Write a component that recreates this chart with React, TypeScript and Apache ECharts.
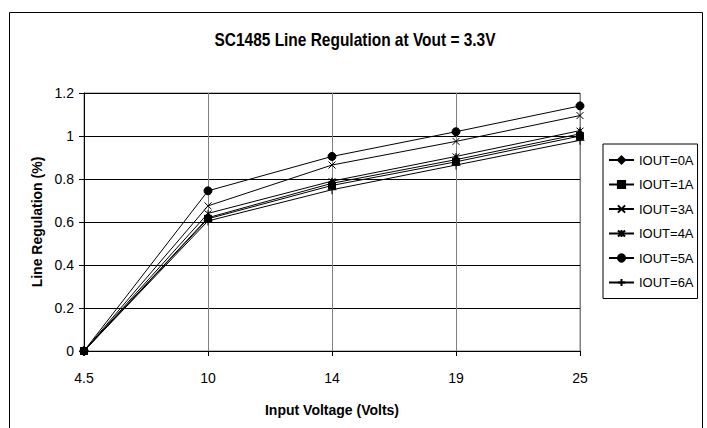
import React, { useEffect, useRef } from "react";
import * as echarts from "echarts";

const categories = ["4.5", "10", "14", "19", "25"];
const seriesNames = ["IOUT=0A", "IOUT=1A", "IOUT=3A", "IOUT=4A", "IOUT=5A", "IOUT=6A"];
const iout0 = [0, 0.62, 0.78, 0.89, 1.01];
const iout1 = [0, 0.615, 0.77, 0.88, 1.0];
const iout3 = [0, 0.675, 0.865, 0.975, 1.095];
const iout4 = [0, 0.64, 0.79, 0.905, 1.025];
const iout5 = [0, 0.745, 0.905, 1.02, 1.14];
const iout6 = [0, 0.605, 0.75, 0.865, 0.98];
const titleText = "SC1485 Line Regulation at Vout = 3.3V";

const FONT = "'Liberation Sans', Arial, sans-serif";

const symbols: Array<[string, any]> = [
  ["diamond", [7, 9]],
  ["rect", 7],
  ["path://M0,0L8,8M8,0L0,8", 7],
  ["path://M0,0L8,8M8,0L0,8M4,-1L4,9", 7],
  ["circle", 8],
  ["path://M4,0L4,8M0,4L8,4", 9],
];

export default function App() {
  const ref = useRef<HTMLDivElement>(null);
  useEffect(() => {
    if (!ref.current) return;
    const chart = echarts.init(ref.current, null, { renderer: "svg" });
    const data = [iout0, iout1, iout3, iout4, iout5, iout6];
    chart.setOption({
      animation: false,
      backgroundColor: "#fff",
      graphic: [
        {
          type: "rect",
          shape: { x: 9.5, y: 12.5, width: 693, height: 440 },
          style: { fill: "none", stroke: "#000", lineWidth: 1 },
          silent: true,
          z: -1,
        },
        {
          type: "text",
          x: 355,
          y: 40,
          scaleX: 0.86,
          style: {
            text: titleText,
            fontFamily: FONT,
            fontSize: 18,
            fontWeight: "bold",
            fill: "#000",
            align: "center",
            verticalAlign: "middle",
          },
        },
      ],
      legend: {
        orient: "vertical",
        left: 603,
        top: 144,
        padding: [9, 4, 9, 5],
        itemGap: 10.5,
        itemWidth: 25,
        itemHeight: 9,
        borderColor: "#000",
        borderWidth: 1,
        data: seriesNames,
        textStyle: { fontFamily: FONT, fontSize: 13, color: "#000", lineHeight: 14 },
      },
      grid: {
        left: 84,
        top: 93,
        width: 496,
        height: 258,
        show: true,
        borderColor: "#808080",
        borderWidth: 1,
      },
      xAxis: {
        type: "category",
        data: categories,
        boundaryGap: false,
        name: "Input Voltage (Volts)",
        nameLocation: "middle",
        nameGap: 52,
        nameTextStyle: { fontFamily: FONT, fontSize: 14, fontWeight: "bold", color: "#000" },
        axisLine: { lineStyle: { color: "#000", width: 1 } },
        axisTick: { show: true, length: 5, lineStyle: { color: "#000" } },
        axisLabel: { fontFamily: FONT, fontSize: 14, color: "#000", margin: 20 },
        splitLine: { show: true, lineStyle: { color: "#808080", width: 1 } },
      },
      yAxis: {
        type: "value",
        min: 0,
        max: 1.2,
        interval: 0.2,
        name: "Line Regulation (%)",
        nameLocation: "middle",
        nameRotate: 90,
        nameGap: 40,
        nameTextStyle: { fontFamily: FONT, fontSize: 14, fontWeight: "bold", color: "#000" },
        axisLine: { show: true, lineStyle: { color: "#000", width: 1 } },
        axisTick: { show: true, length: 5, lineStyle: { color: "#000" } },
        axisLabel: { fontFamily: FONT, fontSize: 14, color: "#000", margin: 10 },
        splitLine: { show: true, lineStyle: { color: "#000", width: 1 } },
      },
      series: seriesNames.map((name, i) => ({
        name,
        type: "line",
        data: data[i],
        symbol: symbols[i][0],
        symbolSize: symbols[i][1],
        showSymbol: true,
        lineStyle: { color: "#000", width: 1 },
        itemStyle: { color: "#000", borderColor: "#000", borderWidth: 1 },
        emphasis: { disabled: true },
      })),
    });
    return () => chart.dispose();
  }, []);
  return (
    <div
      ref={ref}
      style={{ position: "fixed", left: 0, top: 0, width: 707, height: 428, background: "#fff" }}
    />
  );
}
